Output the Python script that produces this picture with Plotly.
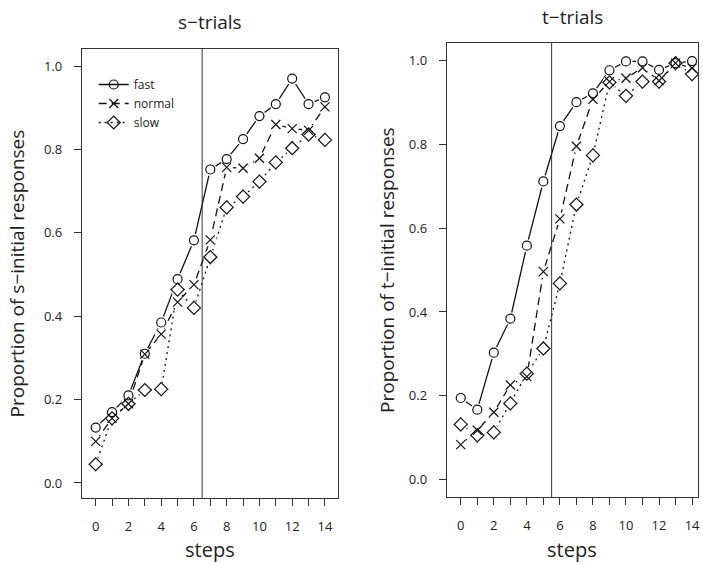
import plotly.graph_objects as go
from plotly.subplots import make_subplots

steps = list(range(15))

s_fast = [0.133, 0.170, 0.210, 0.310, 0.385, 0.489, 0.582, 0.752, 0.777, 0.825, 0.880, 0.909, 0.970, 0.909, 0.925]
s_normal = [0.100, 0.155, 0.190, 0.309, 0.357, 0.434, 0.476, 0.583, 0.757, 0.755, 0.779, 0.860, 0.850, 0.846, 0.902]
s_slow = [0.045, 0.155, 0.190, 0.223, 0.225, 0.464, 0.420, 0.542, 0.661, 0.687, 0.723, 0.769, 0.803, 0.836, 0.823]

t_fast = [0.195, 0.167, 0.303, 0.384, 0.558, 0.711, 0.843, 0.900, 0.921, 0.976, 0.997, 0.997, 0.977, 0.993, 0.998]
t_normal = [0.084, 0.118, 0.161, 0.226, 0.246, 0.496, 0.622, 0.795, 0.907, 0.949, 0.957, 0.982, 0.951, 0.993, 0.981]
t_slow = [0.132, 0.106, 0.113, 0.182, 0.253, 0.313, 0.468, 0.656, 0.773, 0.947, 0.915, 0.949, 0.949, 0.993, 0.967]

series_names = ["fast", "normal", "slow"]
boundaries = [6.5, 5.5]
panel_titles = ["s\u2212trials", "t\u2212trials"]
y_titles = ["Proportion of s\u2212initial responses", "Proportion of t\u2212initial responses"]
x_title = "steps"
x_tick_vals = list(range(15))
x_tick_text = [str(v) if v % 2 == 0 else "" for v in x_tick_vals]
y_tick_vals = [0.0, 0.2, 0.4, 0.6, 0.8, 1.0]
y_tick_text = ["0.0", "0.2", "0.4", "0.6", "0.8", "1.0"]

FONT = "Open Sans"
W, H = 703, 564

styles = {
    "fast": dict(dash="solid", symbol="circle", size=9),
    "normal": dict(dash="8px,5px", symbol="x-thin", size=9),
    "slow": dict(dash="2px,4px", symbol="diamond", size=10),
}

fig = make_subplots(rows=1, cols=2)

panels = [
    dict(data=[s_fast, s_normal, s_slow], xdom=(82, 339), ydom=(49, 498), xr=[-0.85, 14.8], yr=[-0.036, 1.041],
         title_y=22, ytitle_x=17),
    dict(data=[t_fast, t_normal, t_slow], xdom=(448, 700), ydom=(43, 497), xr=[-0.85, 14.36], yr=[-0.041, 1.041],
         title_y=17, ytitle_x=388),
]

for p_i, p in enumerate(panels):
    col = p_i + 1
    for name, ys in zip(series_names, p["data"]):
        st = styles[name]
        fig.add_trace(go.Scatter(
            x=steps, y=ys, mode="lines+markers", name=name,
            legendgroup=name, showlegend=(p_i == 0),
            line=dict(color="#111111", width=1.3, dash=st["dash"]),
            marker=dict(symbol=st["symbol"] + "-open",
                        size=st["size"], color="#111111", line=dict(width=1.2, color="#111111")),
        ), row=1, col=col)
    for name, ys in zip(series_names, p["data"]):
        st = styles[name]
        fig.add_trace(go.Scatter(
            x=steps, y=ys, mode="markers", showlegend=False, hoverinfo="skip",
            marker=dict(symbol="circle", size=st["size"] + 4, color="white", line=dict(width=0)),
        ), row=1, col=col)
    for name, ys in zip(series_names, p["data"]):
        st = styles[name]
        fig.add_trace(go.Scatter(
            x=steps, y=ys, mode="markers", showlegend=False, hoverinfo="skip",
            marker=dict(symbol=st["symbol"] + "-open", size=st["size"], color="#111111",
                        line=dict(width=1.2, color="#111111")),
        ), row=1, col=col)

    xd = [p["xdom"][0] / W, p["xdom"][1] / W]
    yd = [1 - p["ydom"][1] / H, 1 - p["ydom"][0] / H]
    fig.update_xaxes(domain=xd, range=p["xr"], tickvals=x_tick_vals, ticktext=x_tick_text,
                     ticks="outside", ticklen=7, tickwidth=1, tickcolor="#333",
                     showline=True, mirror=True, linecolor="#333", linewidth=1,
                     showgrid=False, zeroline=False, ticklabelstandoff=9,
                     tickfont=dict(family=FONT, size=13, color="#222"), row=1, col=col)
    fig.update_yaxes(domain=yd, range=p["yr"], tickvals=y_tick_vals, ticktext=y_tick_text,
                     ticks="outside", ticklen=7, tickwidth=1, tickcolor="#333",
                     showline=True, mirror=True, linecolor="#333", linewidth=1,
                     showgrid=False, zeroline=False, ticklabelstandoff=9,
                     tickfont=dict(family=FONT, size=13, color="#222"), row=1, col=col)
    xref = "x" if col == 1 else "x2"
    yref = "y domain" if col == 1 else "y2 domain"
    fig.add_shape(type="line", xref=xref, yref=yref, x0=boundaries[p_i], x1=boundaries[p_i],
                  y0=0, y1=1, line=dict(color="#333", width=1))
    cx = (xd[0] + xd[1]) / 2
    fig.add_annotation(text=panel_titles[p_i], x=cx, y=1 - p["title_y"] / H,
                       xref="paper", yref="paper", showarrow=False, yanchor="middle", xanchor="center",
                       font=dict(family=FONT, size=19, color="#222"))
    fig.add_annotation(text=x_title, x=cx, y=1 - 549 / H, xref="paper", yref="paper",
                       showarrow=False, yanchor="middle", xanchor="center",
                       font=dict(family=FONT, size=20, color="#222"))
    fig.add_annotation(text=y_titles[p_i], x=p["ytitle_x"] / W, y=(yd[0] + yd[1]) / 2,
                       xref="paper", yref="paper", showarrow=False, textangle=-90,
                       xanchor="center", yanchor="middle",
                       font=dict(family=FONT, size=19, color="#222"))

fig.update_layout(
    width=W, height=H, margin=dict(l=0, r=0, t=0, b=0),
    paper_bgcolor="white", plot_bgcolor="white",
    showlegend=True,
    legend=dict(x=94 / W, y=1 - 70 / H, xanchor="left", yanchor="top",
                bgcolor="rgba(0,0,0,0)", font=dict(family=FONT, size=12, color="#222"),
                itemwidth=30, tracegroupgap=0),
)

fig.write_html("out.html")
